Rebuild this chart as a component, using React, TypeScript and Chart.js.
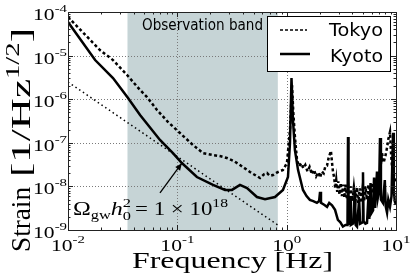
import { useEffect, useRef } from 'react';
import { Chart, registerables } from 'chart.js';
Chart.register(...registerables);

// ---------- data ----------
const kyotoFreq = [0.01, 0.0177, 0.0258, 0.0312, 0.0354, 0.0456, 0.0694, 0.0912, 0.11, 0.151, 0.212, 0.273, 0.316, 0.374, 0.434, 0.535, 0.634, 0.782, 0.925, 1.028, 1.072, 1.107, 1.142, 1.19, 1.27, 1.41, 1.52, 1.63, 1.75, 1.89, 1.98, 2.02, 2.06, 2.2, 2.34, 2.45, 2.6, 2.77, 2.94, 3.1, 3.27, 3.45, 3.6, 3.64, 3.68, 3.8, 3.86, 4.05, 4.2, 4.28, 4.4, 4.6, 4.7, 4.95, 4.99, 5.05, 5.25, 5.43, 5.6, 5.7, 5.85, 5.95, 6.17, 6.3, 6.45, 6.7, 6.84, 7.0, 7.14, 7.28, 7.6, 7.9, 8.05, 8.28, 8.5, 8.81, 9.1, 9.39, 9.55, 9.75, 10];
const kyotoStrain = [5.9e-5, 7.9e-6, 3.06e-6, 1.63e-6, 1.07e-6, 4.35e-7, 1.16e-7, 5.8e-8, 3.44e-8, 1.64e-8, 1.08e-8, 8.3e-9, 8.3e-9, 1.08e-8, 9.2e-9, 5.7e-9, 5.1e-9, 5.7e-9, 8.3e-9, 1.64e-8, 9.9e-8, 3.06e-6, 3.3e-7, 6.8e-8, 2.4e-8, 8.3e-9, 6e-9, 4.9e-9, 4.6e-9, 4.2e-9, 4.6e-9, 7.5e-9, 4.2e-9, 3.8e-9, 3.4e-9, 4.2e-9, 3.7e-9, 2.9e-9, 1.7e-9, 1.5e-9, 1.2e-9, 1.3e-9, 1.3e-9, 1.36e-7, 1.3e-9, 6e-9, 1.3e-9, 1.4e-9, 8e-9, 1.3e-9, 1.2e-9, 5e-9, 1.4e-9, 1.5e-9, 2.1e-8, 1.6e-9, 1.4e-9, 1.45e-9, 6e-9, 1.8e-9, 1.2e-8, 2.4e-9, 2.8e-9, 1.6e-8, 3.2e-9, 2.2e-8, 5.7e-9, 8e-9, 1.29e-7, 5e-9, 4.2e-9, 1.4e-8, 3.5e-9, 2.5e-9, 5e-9, 3.4e-9, 6e-9, 1.7e-7, 8e-9, 4.5e-9, 3.8e-9];

const tokyoFreq = [0.01, 0.0196, 0.0258, 0.0347, 0.0456, 0.0528, 0.0652, 0.0822, 0.1057, 0.139, 0.172, 0.212, 0.25, 0.284, 0.33, 0.374, 0.462, 0.57, 0.62, 0.661, 0.7, 0.75, 0.82, 0.925, 1.006, 1.072, 1.119, 1.15, 1.19, 1.244, 1.3, 1.36, 1.42, 1.48, 1.55, 1.62, 1.7, 1.78, 1.86, 1.95, 2.02, 2.1, 2.18, 2.26, 2.34, 2.42, 2.54, 2.6, 2.65, 2.72, 2.78, 2.84, 2.9, 2.97, 3.04, 3.12, 3.2, 3.28, 3.37, 3.46, 3.56, 3.66, 3.77, 3.88, 4.0, 4.12, 4.25, 4.38, 4.52, 4.66, 4.8, 4.95, 5.1, 5.25, 5.42, 5.6, 5.78, 5.96, 6.15, 6.35, 6.55, 6.8, 7.1, 7.45, 7.7, 8.0, 8.3, 8.5, 8.81, 9.0, 9.19, 9.5, 9.8, 10];
const tokyoStrain = [7.7e-5, 1.34e-5, 7.9e-6, 3.59e-6, 1.63e-6, 1.12e-6, 5.65e-7, 3.0e-7, 1.68e-7, 8.9e-8, 5.8e-8, 5.25e-8, 4.9e-8, 4.48e-8, 3.8e-8, 3.1e-8, 2.14e-8, 1.56e-8, 1.9e-8, 2.03e-8, 1.75e-8, 1.82e-8, 2.1e-8, 2.38e-8, 3.44e-8, 1.97e-7, 2.12e-6, 5.0e-7, 1.36e-7, 4.0e-8, 2.9e-8, 3.4e-8, 2.6e-8, 3.1e-8, 2.2e-8, 2.8e-8, 1.9e-8, 2.4e-8, 1.7e-8, 2.1e-8, 1.6e-8, 2.2e-8, 2.0e-8, 2.9e-8, 3.0e-8, 4.5e-8, 6.5e-8, 3.5e-8, 2.2e-8, 1.6e-8, 9e-9, 1.4e-8, 7.5e-9, 1.3e-8, 6.5e-9, 1.2e-8, 6e-9, 1.1e-8, 5.5e-9, 1.1e-8, 5e-9, 1.0e-8, 4.8e-9, 1.0e-8, 4.6e-9, 9.5e-9, 4.5e-9, 9.5e-9, 4.2e-9, 9e-9, 4.2e-9, 9e-9, 4.5e-9, 1.0e-8, 5e-9, 1.1e-8, 5.5e-9, 1.2e-8, 7e-9, 1.3e-8, 1.0e-8, 1.6e-8, 1.8e-8, 5.8e-8, 3.5e-8, 5e-8, 8e-8, 1.2e-7, 1.77e-7, 6e-8, 2.8e-8, 2.0e-8, 1.4e-8, 1.2e-8];

const omegaFreq = [0.01, 0.83];
const omegaStrain = [2.48e-6, 1.3e-9];

const bandRange = [0.035, 0.83];
const xTickExps = [-2, -1, 0, 1];
const yTickExps = [-9, -8, -7, -6, -5, -4];
const legendLabels = ['Tokyo', 'Kyoto'];
const arrowTail = [0.0694, 7.1e-9];
const arrowHead = [0.11, 3.4e-8];

const SERIF = '"Liberation Serif", serif';
const SANS = '"DejaVu Sans", sans-serif';

type Run = { t: string; size: number; dy?: number; italic?: boolean; hold?: boolean };

function runFont(r: Run, family: string) {
  return `${r.italic ? 'italic ' : ''}${r.size}px ${family}`;
}
function measureRuns(ctx: CanvasRenderingContext2D, runs: Run[], family: string) {
  let w = 0;
  for (const r of runs) {
    ctx.font = runFont(r, family);
    if (!r.hold) w += ctx.measureText(r.t).width;
  }
  return w;
}
function drawRuns(
  ctx: CanvasRenderingContext2D,
  runs: Run[],
  family: string,
  x: number,
  y: number,
  opts: { sx?: number; width?: number; align?: 'left' | 'center' | 'right' }
) {
  const nat = measureRuns(ctx, runs, family);
  const sx = opts.width ? opts.width / nat : opts.sx ?? 1;
  const total = nat * sx;
  let start = x;
  if (opts.align === 'center') start = x - total / 2;
  else if (opts.align === 'right') start = x - total;
  ctx.save();
  ctx.translate(start, y);
  ctx.scale(sx, 1);
  ctx.textAlign = 'left';
  ctx.textBaseline = 'alphabetic';
  ctx.fillStyle = '#000';
  let cx = 0;
  for (const r of runs) {
    ctx.font = runFont(r, family);
    ctx.fillText(r.t, cx, r.dy || 0);
    if (!r.hold) cx += ctx.measureText(r.t).width;
  }
  ctx.restore();
}

const decorPlugin = {
  id: 'decor',
  beforeDraw(chart: any) {
    const { ctx, chartArea: a, scales } = chart;
    const xs = scales.x, ys = scales.y;
    ctx.save();
    const b0 = xs.getPixelForValue(bandRange[0]);
    const b1 = xs.getPixelForValue(bandRange[1]);
    ctx.fillStyle = '#c6d4d6';
    ctx.fillRect(b0, a.top, b1 - b0, a.bottom - a.top);
    ctx.strokeStyle = '#7a7a7a';
    ctx.lineWidth = 1;
    ctx.setLineDash([1, 2]);
    for (const e of xTickExps) {
      const px = Math.round(xs.getPixelForValue(Math.pow(10, e))) + 0.5;
      ctx.beginPath(); ctx.moveTo(px, a.top); ctx.lineTo(px, a.bottom); ctx.stroke();
    }
    for (const e of yTickExps) {
      const py = Math.round(ys.getPixelForValue(Math.pow(10, e))) + 0.5;
      ctx.beginPath(); ctx.moveTo(a.left, py); ctx.lineTo(a.right, py); ctx.stroke();
    }
    ctx.setLineDash([]);
    drawRuns(ctx, [{ t: 'Observation band', size: 15 }], SANS, 142, 30, { width: 121 });
    ctx.restore();
  },
  afterDatasetsDraw(chart: any) {
    const { ctx, chartArea: a, scales } = chart;
    const xs = scales.x, ys = scales.y;
    ctx.save();
    ctx.strokeStyle = '#222';
    ctx.lineWidth = 1;
    ctx.strokeRect(Math.round(a.left) + 0.5, Math.round(a.top) + 0.5, Math.round(a.right - a.left), Math.round(a.bottom - a.top));
    ctx.beginPath();
    for (let e = xTickExps[0]; e <= xTickExps[xTickExps.length - 1]; e++) {
      for (let k = 1; k <= 9; k++) {
        const v = k * Math.pow(10, e);
        if (v > 10 * 1.0001) continue;
        const px = Math.round(xs.getPixelForValue(v)) + 0.5;
        const len = k === 1 ? 5 : 2.5;
        ctx.moveTo(px, a.bottom); ctx.lineTo(px, a.bottom - len);
        ctx.moveTo(px, a.top); ctx.lineTo(px, a.top + len);
      }
    }
    for (let e = yTickExps[0]; e <= yTickExps[yTickExps.length - 1]; e++) {
      for (let k = 1; k <= 9; k++) {
        const v = k * Math.pow(10, e);
        if (v > 1e-4 * 1.0001) continue;
        const py = Math.round(ys.getPixelForValue(v)) + 0.5;
        const len = k === 1 ? 5 : 2.5;
        ctx.moveTo(a.left, py); ctx.lineTo(a.left + len, py);
        ctx.moveTo(a.right, py); ctx.lineTo(a.right - len, py);
      }
    }
    ctx.strokeStyle = '#222';
    ctx.stroke();

    for (const e of yTickExps) {
      const py = ys.getPixelForValue(Math.pow(10, e));
      drawRuns(ctx, [{ t: '10', size: 16 }, { t: String(e), size: 11, dy: -8 }], SERIF, a.left - 1, py + 8, { sx: 1.35, align: 'right' });
    }
    for (const e of xTickExps) {
      const px = xs.getPixelForValue(Math.pow(10, e));
      drawRuns(ctx, [{ t: '10', size: 16 }, { t: String(e), size: 11, dy: -8 }], SERIF, px, 251, { sx: 1.35, align: 'center' });
    }

    drawRuns(ctx, [{ t: 'Frequency [Hz]', size: 24 }], SERIF, 132, 268, { width: 201 });
    ctx.save();
    ctx.translate(30, 252);
    ctx.rotate(-Math.PI / 2);
    drawRuns(ctx, [{ t: 'Strain', size: 27 }], SERIF, 0, 0, { width: 65 });
    drawRuns(ctx, [{ t: '[1/Hz', size: 27 }, { t: '1/2', size: 18, dy: -11 }, { t: ']', size: 27 }], SERIF, 75, 0, { width: 149 });
    ctx.restore();

    ctx.fillStyle = '#fff';
    ctx.fillRect(267.5, 16.5, 123, 55);
    ctx.strokeStyle = '#000';
    ctx.lineWidth = 1;
    ctx.strokeRect(267.5, 16.5, 123, 55);
    ctx.beginPath();
    ctx.setLineDash([3, 2]);
    ctx.lineWidth = 1.5;
    ctx.moveTo(280, 30); ctx.lineTo(307, 30);
    ctx.stroke();
    ctx.setLineDash([]);
    ctx.beginPath();
    ctx.lineWidth = 2.5;
    ctx.moveTo(280, 54); ctx.lineTo(310, 54);
    ctx.stroke();
    drawRuns(ctx, [{ t: legendLabels[0], size: 17 }], SANS, 329, 36, { width: 54 });
    drawRuns(ctx, [{ t: legendLabels[1], size: 17 }], SANS, 330, 62, { width: 53 });

    const tx = xs.getPixelForValue(arrowTail[0]), ty = ys.getPixelForValue(arrowTail[1]);
    const hx = xs.getPixelForValue(arrowHead[0]), hy = ys.getPixelForValue(arrowHead[1]);
    ctx.strokeStyle = '#000';
    ctx.lineWidth = 1.3;
    ctx.beginPath(); ctx.moveTo(tx, ty); ctx.lineTo(hx, hy); ctx.stroke();
    const ang = Math.atan2(hy - ty, hx - tx);
    ctx.beginPath();
    ctx.moveTo(hx, hy);
    ctx.lineTo(hx - 7 * Math.cos(ang) + 3 * Math.sin(ang), hy - 7 * Math.sin(ang) - 3 * Math.cos(ang));
    ctx.lineTo(hx - 7 * Math.cos(ang) - 3 * Math.sin(ang), hy - 7 * Math.sin(ang) + 3 * Math.cos(ang));
    ctx.closePath();
    ctx.fillStyle = '#000';
    ctx.fill();

    drawRuns(ctx, [
      { t: 'Ω', size: 19 },
      { t: 'gw', size: 13, dy: 4 },
      { t: 'h', size: 19, italic: true },
      { t: '2', size: 13, dy: -8, hold: true },
      { t: '0', size: 13, dy: 5 },
    ], SERIF, 73, 215, { width: 58 });
    drawRuns(ctx, [
      { t: '= 1 × 10', size: 19 },
      { t: '18', size: 13, dy: -8 },
    ], SERIF, 135, 215, { width: 93 });
    ctx.restore();
  },
};

export default function App() {
  const ref = useRef<HTMLCanvasElement | null>(null);
  useEffect(() => {
    document.body.style.margin = '0';
    const canvas = ref.current;
    if (!canvas) return;
    const toXY = (fs: number[], ss: number[]) => fs.map((f, i) => ({ x: f, y: ss[i] }));
    const chart = new Chart(canvas, {
      type: 'line',
      data: {
        datasets: [
          {
            label: 'Kyoto',
            data: toXY(kyotoFreq, kyotoStrain),
            borderColor: '#000',
            borderWidth: 2.5,
            pointRadius: 0,
            tension: 0,
            clip: 0,
          },
          {
            label: 'Tokyo',
            data: toXY(tokyoFreq, tokyoStrain),
            borderColor: '#000',
            borderWidth: 2.5,
            borderDash: [3, 2.5],
            pointRadius: 0,
            tension: 0,
            clip: 0,
          },
          {
            label: 'Omega',
            data: toXY(omegaFreq, omegaStrain),
            borderColor: '#000',
            borderWidth: 1.5,
            borderDash: [1.5, 3],
            pointRadius: 0,
            tension: 0,
            clip: 0,
          },
        ],
      } as any,
      options: {
        animation: false,
        responsive: true,
        maintainAspectRatio: false,
        events: [],
        layout: { padding: { left: 68, top: 12, right: 18, bottom: 48 } },
        plugins: { legend: { display: false }, tooltip: { enabled: false } },
        scales: {
          x: { type: 'logarithmic', min: 0.01, max: 10, display: false },
          y: { type: 'logarithmic', min: 1e-9, max: 1e-4, display: false },
        },
      } as any,
      plugins: [decorPlugin],
    });
    return () => chart.destroy();
  }, []);
  return (
    <div style={{ position: 'relative', width: 414, height: 278 }}>
      <canvas ref={ref} />
    </div>
  );
}
